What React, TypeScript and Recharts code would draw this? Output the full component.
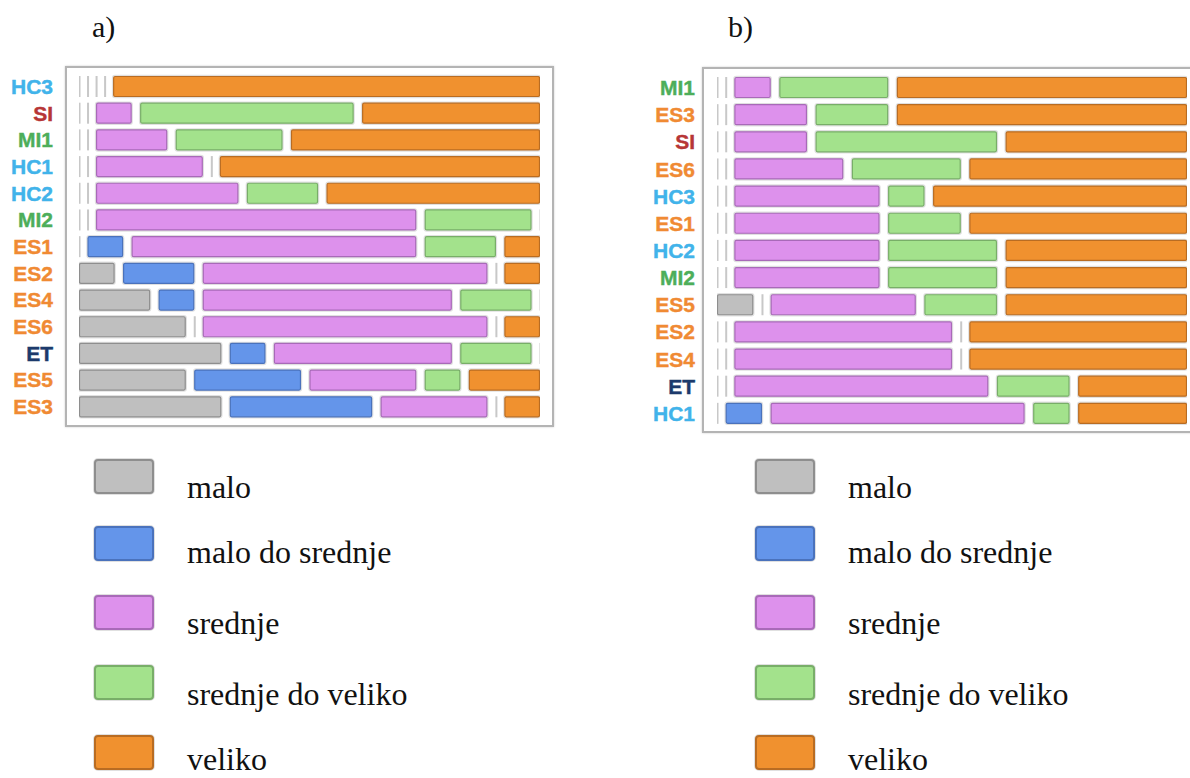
import React from 'react';
import { BarChart, Bar, XAxis, YAxis } from 'recharts';

// levels (legend order)
const LEVELS = ['malo', 'malo do srednje', 'srednje', 'srednje do veliko', 'veliko'];
const FILLS = ['#BFBFBF', '#6495EA', '#DD91EC', '#A3E28C', '#F0912F'];
const STROKES = ['#8E8E8E', '#4A72BC', '#A86AB8', '#78AE68', '#B96C22'];

// chart a)
const rowsA = ['HC3', 'SI', 'MI1', 'HC1', 'HC2', 'MI2', 'ES1', 'ES2', 'ES4', 'ES6', 'ET', 'ES5', 'ES3'];
const maloA = [0, 0, 0, 0, 0, 0, 0, 1, 2, 3, 4, 3, 4];
const maloDoSrednjeA = [0, 0, 0, 0, 0, 0, 1, 2, 1, 0, 1, 3, 4];
const srednjeA = [0, 1, 2, 3, 4, 9, 8, 8, 7, 8, 5, 3, 3];
const srednjeDoVelikoA = [0, 6, 3, 0, 2, 3, 2, 0, 2, 0, 2, 1, 0];
const velikoA = [12, 5, 7, 9, 6, 0, 1, 1, 0, 1, 0, 2, 1];

// chart b)
const rowsB = ['MI1', 'ES3', 'SI', 'ES6', 'HC3', 'ES1', 'HC2', 'MI2', 'ES5', 'ES2', 'ES4', 'ET', 'HC1'];
const maloB = [0, 0, 0, 0, 0, 0, 0, 0, 1, 0, 0, 0, 0];
const maloDoSrednjeB = [0, 0, 0, 0, 0, 0, 0, 0, 0, 0, 0, 0, 1];
const srednjeB = [1, 2, 2, 3, 4, 4, 4, 4, 4, 6, 6, 7, 7];
const srednjeDoVelikoB = [3, 2, 5, 3, 1, 2, 3, 3, 2, 0, 0, 2, 1];
const velikoB = [8, 8, 5, 6, 7, 6, 5, 5, 5, 6, 6, 3, 3];

const GAP = 0.24; // spacing between segments, in value units
const TOTAL = 12 + 4 * GAP;

const KEYS = ['k0', 'k1', 'k2', 'k3', 'k4'];

function buildRows(names: string[], series: number[][]) {
  return names.map((name, i) => {
    const row: Record<string, any> = { name };
    series.forEach((s, j) => {
      row[KEYS[j]] = s[i];
      if (j < series.length - 1) row['g' + j] = GAP;
    });
    return row;
  });
}

const dataA = buildRows(rowsA, [maloA, maloDoSrednjeA, srednjeA, srednjeDoVelikoA, velikoA]);
const dataB = buildRows(rowsB, [maloB, maloDoSrednjeB, srednjeB, srednjeDoVelikoB, velikoB]);

function labelColor(name: string) {
  if (name.startsWith('HC')) return '#41B3EA';
  if (name.startsWith('SI')) return '#B73636';
  if (name.startsWith('MI')) return '#4DAE5A';
  if (name.startsWith('ET')) return '#1C3A6C';
  return '#F08A33';
}

const segShape = (idx: number) => (props: any) => {
  const { x, y, width, height, payload } = props;
  if (!payload || payload[KEYS[idx]] === 0) {
    return <rect x={x - 0.5} y={y} width={2} height={height} fill="#C8C8C8" />;
  }
  return (
    <g>
      <rect x={x} y={y} width={width} height={height} rx={2} fill="none" stroke="rgba(0,0,0,0.12)" strokeWidth={2.5} />
      <rect
        x={x + 0.5}
        y={y + 0.5}
        width={Math.max(width - 1, 0)}
        height={height - 1}
        rx={1.5}
        fill={FILLS[idx]}
        stroke={STROKES[idx]}
        strokeWidth={1.2}
      />
    </g>
  );
};

const LabelTick = (props: any) => {
  const { x, y, payload, offset } = props;
  return (
    <text
      x={x - offset}
      y={y}
      dy={7.5}
      textAnchor="end"
      fill={labelColor(payload.value)}
      stroke={labelColor(payload.value)}
      strokeWidth={0.4}
      fontFamily="'Liberation Sans', Arial, sans-serif"
      fontWeight={700}
      fontSize={21}
    >
      {payload.value}
    </text>
  );
};

function Ranking({ data, width, height, margin, yWidth, labelOffset }: any) {
  const bars: React.ReactNode[] = [];
  KEYS.forEach((k, i) => {
    bars.push(
      <Bar key={k} dataKey={k} stackId="a" barSize={21} shape={segShape(i)} isAnimationActive={false} />
    );
    if (i < KEYS.length - 1) {
      bars.push(
        <Bar key={'g' + i} dataKey={'g' + i} stackId="a" barSize={21} fill="none" shape={() => <g />} isAnimationActive={false} />
      );
    }
  });
  return (
    <BarChart width={width} height={height} data={data} layout="vertical" margin={margin}>
      <XAxis type="number" domain={[0, TOTAL]} hide allowDataOverflow />
      <YAxis
        type="category"
        dataKey="name"
        width={yWidth}
        axisLine={false}
        tickLine={false}
        tickSize={0}
        tickMargin={0}
        interval={0}
        tick={(p: any) => <LabelTick {...p} offset={labelOffset} />}
      />
      {bars}
    </BarChart>
  );
}

const legendRows = [
  { sy: 460, ty: 498 },
  { sy: 527, ty: 563 },
  { sy: 596, ty: 634 },
  { sy: 666, ty: 705 },
  { sy: 736, ty: 770 },
];

export default function App() {
  const serif = "'Liberation Serif', 'Times New Roman', serif";
  return (
    <div style={{ position: 'absolute', left: 0, top: 0, width: 1190, height: 778, overflow: 'hidden', background: '#fff' }}>
      <svg width={1190} height={778} style={{ position: 'absolute', left: 0, top: 0 }}>
        <text x={92} y={37} fontFamily={serif} fontSize={30} fill="#111">a)</text>
        <text x={728} y={37} fontFamily={serif} fontSize={30} fill="#111">b)</text>
        {[95, 756].map((sx, c) => (
          <g key={c}>
            {LEVELS.map((lv, i) => (
              <g key={lv}>
                <rect x={sx - 1} y={legendRows[i].sy - 1} width={60} height={35} rx={4} fill="none" stroke="rgba(0,0,0,0.12)" strokeWidth={2} />
                <rect x={sx} y={legendRows[i].sy} width={58} height={33} rx={3} fill={FILLS[i]} stroke={STROKES[i]} strokeWidth={2} />
                <text x={sx + 92} y={legendRows[i].ty} fontFamily={serif} fontSize={32} fill="#111">{lv}</text>
              </g>
            ))}
          </g>
        ))}
      </svg>
      <div style={{ position: 'absolute', left: 65, top: 66, width: 489, height: 361, border: '2px solid #B4B4B4', boxShadow: '0 0 2px #ccc', boxSizing: 'border-box' }} />
      <div style={{ position: 'absolute', left: 702, top: 67, width: 600, height: 366, border: '2px solid #B4B4B4', boxShadow: '0 0 2px #ccc', boxSizing: 'border-box' }} />
      <div style={{ position: 'absolute', left: 0, top: 0 }}>
        <Ranking data={dataA} width={560} height={440} margin={{ top: 73, right: 20, bottom: 20, left: 0 }} yWidth={79} labelOffset={26} />
      </div>
      <div style={{ position: 'absolute', left: 640, top: 0 }}>
        <Ranking data={dataB} width={550} height={440} margin={{ top: 74, right: 3, bottom: 13, left: 0 }} yWidth={77} labelOffset={22} />
      </div>
    </div>
  );
}
